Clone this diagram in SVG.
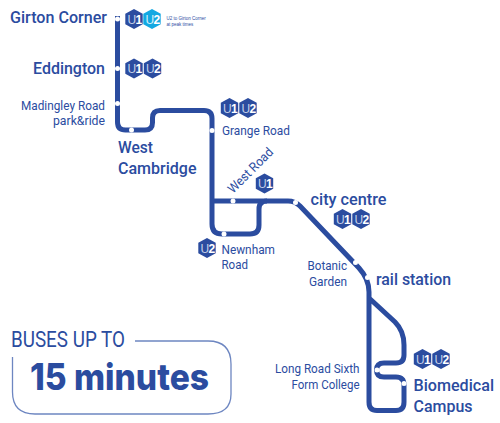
<svg xmlns="http://www.w3.org/2000/svg" width="500" height="423" viewBox="0 0 500 423">
<defs>
<path id="hex" d="M0 -10 L8.700 -5.200 L8.700 5.200 L0 10 L-8.700 5.200 L-8.700 -5.200 Z"/>
<g id="u1"><use href="#hex" fill="#2b4c9f"/><text class="bt" x="-6.500" y="4.500"><tspan fill="#c5d0e8">U</tspan><tspan font-weight="700">1</tspan></text></g>
<g id="u2"><use href="#hex" fill="#2b4c9f"/><text class="bt" x="-6.500" y="4.500"><tspan fill="#c5d0e8">U</tspan><tspan font-weight="700">2</tspan></text></g>
<g id="u2c"><use href="#hex" fill="#13a8e2"/><text class="bt" x="-6.500" y="4.500"><tspan fill="#d5f0fb">U</tspan><tspan font-weight="700">2</tspan></text></g>
</defs>
<style>
text{font-family:Roboto,"Liberation Sans",sans-serif;fill:#2b4c9f}
.bt{font-size:12px;fill:#fff;font-family:"Liberation Sans",sans-serif;letter-spacing:-0.8px}
.b{font-size:17px;font-weight:500}
.r{font-size:13px;font-weight:400}
.e{text-anchor:end}
.line{fill:none;stroke:#2b4c9f;stroke-width:5}
.dot{fill:#fff}
</style>
<rect width="500" height="423" fill="#fff"/>
<g id="connectors">
<path class="line" d="M117.500 16V122Q117.500 130 125.500 130H145Q152.500 130 152.500 122.500V118Q152.500 110.500 160 110.500H204Q212 110.500 212 118.500V224Q212 234 222 234H250Q259 234 259 225V209Q259 201 267 201"/>
<path class="line" d="M212 201H288Q295 201 300 206L359 268Q369 279 369 292V402Q369 410.500 377 410.500H396Q404 410.500 404 402V385Q404 377 396 377H384Q376.500 377 376.500 370Q376.500 363 384 363H396Q404 363 404 355V345Q404 331 395 322L369 298"/>
</g>
<g id="stops" class="dot">
<circle cx="117.500" cy="19" r="2.500"/>
<circle cx="117.500" cy="68.500" r="2.500"/>
<circle cx="117.500" cy="103.500" r="2.500"/>
<circle cx="131.500" cy="130" r="2.500"/>
<circle cx="212" cy="130.500" r="2.500"/>
<circle cx="233" cy="201" r="2.500"/>
<circle cx="295.500" cy="202.500" r="2.500"/>
<circle cx="224" cy="234" r="2.500"/>
<circle cx="355.500" cy="262.500" r="2.500"/>
<circle cx="367.500" cy="277.500" r="2.500"/>
<circle cx="377" cy="370" r="2.500"/>
<circle cx="404" cy="383.500" r="2.500"/>
</g>
<g id="node-girton"><text class="b e" x="107" y="23" textLength="97" lengthAdjust="spacingAndGlyphs">Girton Corner</text><use href="#u1" x="134" y="19"/><use href="#u2c" x="152" y="19"/>
<text x="166.500" y="19.500" style="font-size:4.500px;font-family:'Liberation Sans',sans-serif">U2 to Girton Corner</text><text x="166.500" y="25.500" style="font-size:4.500px;font-family:'Liberation Sans',sans-serif">at peak times</text></g>
<g id="node-eddington"><text class="b e" x="105" y="73.500" textLength="72" lengthAdjust="spacingAndGlyphs">Eddington</text><use href="#u1" x="134" y="68.500"/><use href="#u2" x="152.500" y="68.500"/></g>
<g id="node-madingley"><text class="r e" x="105" y="110" textLength="84" lengthAdjust="spacingAndGlyphs">Madingley Road</text><text class="r e" x="105" y="125" textLength="52" lengthAdjust="spacingAndGlyphs">park&amp;ride</text></g>
<g id="node-west-cambridge"><text class="b" x="118" y="152.500" textLength="35" lengthAdjust="spacingAndGlyphs">West</text><text class="b" x="118" y="174" textLength="78.500" lengthAdjust="spacingAndGlyphs">Cambridge</text></g>
<g id="node-grange"><use href="#u1" x="229.500" y="108"/><use href="#u2" x="248" y="108"/><text class="r" x="222" y="134.500" textLength="68" lengthAdjust="spacingAndGlyphs">Grange Road</text></g>
<g id="node-west-road"><text class="r" transform="translate(233 194) rotate(-45)" textLength="58" lengthAdjust="spacingAndGlyphs">West Road</text><use href="#u1" x="264.500" y="183.500"/></g>
<g id="node-city-centre"><text class="b" x="310.500" y="205" textLength="76" lengthAdjust="spacingAndGlyphs">city centre</text><use href="#u1" x="342.500" y="219"/><use href="#u2" x="361" y="219"/></g>
<g id="node-newnham"><use href="#u2" x="207" y="248"/><text class="r" x="221.500" y="253.500" textLength="53.500" lengthAdjust="spacingAndGlyphs">Newnham</text><text class="r" x="221.500" y="269" textLength="26.500" lengthAdjust="spacingAndGlyphs">Road</text></g>
<g id="node-botanic"><text class="r e" x="347" y="270" textLength="39.500" lengthAdjust="spacingAndGlyphs">Botanic</text><text class="r e" x="347" y="286" textLength="38" lengthAdjust="spacingAndGlyphs">Garden</text></g>
<g id="node-rail"><text class="b" x="376" y="285" textLength="75" lengthAdjust="spacingAndGlyphs">rail station</text></g>
<g id="node-long-road"><text class="r e" x="359.500" y="373" textLength="84.500" lengthAdjust="spacingAndGlyphs">Long Road Sixth</text><text class="r e" x="359.500" y="388.500" textLength="68" lengthAdjust="spacingAndGlyphs">Form College</text></g>
<g id="node-biomedical"><use href="#u1" x="422.500" y="359"/><use href="#u2" x="441" y="359"/><text class="b" x="413.500" y="390.500" textLength="80.500" lengthAdjust="spacingAndGlyphs">Biomedical</text><text class="b" x="413.500" y="411.500" textLength="59" lengthAdjust="spacingAndGlyphs">Campus</text></g>
<g id="callout">
<path d="M135 341H208Q231 341 231 364V394Q231 414 208 414H35Q12.500 414 12.500 392V357" fill="none" stroke="#6d86c1" stroke-width="1.300"/>
<text x="11" y="347" style="font-size:22px;font-family:Roboto,'Liberation Sans',sans-serif" textLength="114" lengthAdjust="spacingAndGlyphs">BUSES UP TO</text>
<text x="30" y="389.500" style="font-size:37px;font-weight:800;font-family:Inter,'DejaVu Sans',sans-serif" textLength="179" lengthAdjust="spacingAndGlyphs">15 minutes</text>
</g>
</svg>
